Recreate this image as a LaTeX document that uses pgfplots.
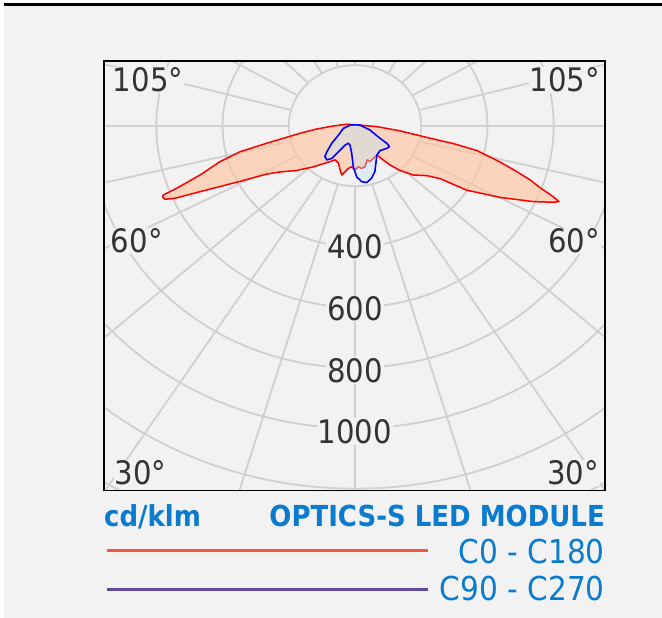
\documentclass[border=0pt]{standalone}
\usepackage{pgfplots}
\pgfplotsset{compat=1.18}
\usepackage{fontspec}
\setmainfont{DejaVu Sans Condensed}
\definecolor{bgc}{HTML}{F2F2F2}
\definecolor{gridc}{HTML}{D0D0D0}
\definecolor{labc}{HTML}{333333}
\definecolor{bluec}{HTML}{0A7BCE}
\definecolor{legred}{HTML}{F05A3F}
\definecolor{legpur}{HTML}{5E4A9C}
\definecolor{peach}{RGB}{255,196,160}
\definecolor{lblue}{RGB}{190,225,245}
\tikzset{lab/.style={font=\fontsize{32.5}{32.5}\selectfont, text=labc, fill=bgc, inner sep=1bp}}
\begin{document}
\begin{tikzpicture}[x=1bp,y=1bp]
\useasboundingbox (0,0) rectangle (662,618);
\fill[white] (0,0) rectangle (662,618);
\fill[bgc] (4,0) rectangle (662,612);
\fill[black] (4,612) rectangle (662,615);
\begin{axis}[
  at={(104bp,127.5bp)}, anchor=south west,
  width=501bp, height=429.5bp, scale only axis,
  xmin=-758, xmax=755, ymin=-1206, ymax=214,
  xtick=\empty, ytick=\empty,
  axis line style={black, line width=1.6bp},
  clip mode=global, axis on top,
]
\pgfplotsinvokeforeach{200,400,600,800,1000,1200,1400}{
  \draw[gridc, line width=1.8bp] (axis cs:0,0) ellipse [x radius=#1, y radius=#1];
}
\pgfplotsinvokeforeach{0,15,30,45,60,75,90,105,120,135,150,165,180,195,210,225,240,255,270,285,300,315,330,345}{
  \draw[gridc, line width=1.8bp] (axis cs:{200*sin(#1)},{-200*cos(#1)}) --
    (axis cs:{1700*sin(#1+2.4*sin(2*#1)*(cos(#1)>0.01))},{-1700*cos(#1+2.4*sin(2*#1)*(cos(#1)>0.01))});
}
% C0 - C180
\addplot[draw=red, line width=1.5bp, line join=round, fill=peach, fill opacity=0.65] coordinates {
(-581,-236) (-579,-229) (-539,-207) (-505,-186) (-468,-163) (-408,-119) (-347,-86) (-267,-58)
(-166,-25) (-116,-11) (-66,-1) (-25,5) (5,3) (66,-3) (136,-17) (237,-44) (297,-59)
(368,-82) (438,-120) (489,-152) (530,-180) (559,-205) (599,-235) (616,-251) (599,-253) (539,-251) (438,-237)
(337,-213) (257,-175) (217,-165) (176,-163) (136,-148) (106,-130) (85,-113) (66,-97) (45,-119)
(37,-113) (30,-136) (20,-141) (10,-136) (0,-146) (-10,-136) (-20,-141) (-30,-152) (-40,-163)
(-45,-146) (-50,-124) (-60,-113) (-76,-119) (-91,-124) (-126,-136) (-176,-148) (-227,-153)
(-267,-160) (-337,-181) (-418,-204) (-489,-224) (-544,-240) (-574,-243) (-581,-236)
};
% C90 - C270
\addplot[draw=blue, line width=1.6bp, line join=round, fill=lblue, fill opacity=0.4] coordinates {
(-15,2) (0,3) (15,2) (45,-14) (76,-42) (96,-58) (104,-69) (96,-75) (76,-82) (66,-97) (63,-124)
(60,-152) (50,-174) (35,-188) (20,-185) (5,-169) (-5,-136) (-10,-91) (-15,-64) (-20,-58) (-30,-64)
(-50,-86) (-70,-108) (-85,-113) (-91,-102) (-85,-86) (-70,-58) (-50,-31) (-35,-9) (-15,2)
};
\node[lab] at (axis cs:-625,151) {105°};
\node[lab] at (axis cs:634,151) {105°};
\node[lab] at (axis cs:-659,-381) {60°};
\node[lab] at (axis cs:662,-381) {60°};
\node[lab] at (axis cs:-647,-1148) {30°};
\node[lab] at (axis cs:659,-1148) {30°};
\node[lab] at (axis cs:0,-401) {400};
\node[lab] at (axis cs:0,-606) {600};
\node[lab] at (axis cs:0,-809) {800};
\node[lab] at (axis cs:0,-1011) {1000};
\end{axis}
\node[anchor=base west, text=bluec, font=\bfseries\fontsize{29}{29}\selectfont, inner sep=0] at (104,91.6) {cd/klm};
\node[anchor=base east, text=bluec, font=\bfseries\fontsize{29}{29}\selectfont, inner sep=0] at (605,91.6) {OPTICS-S LED MODULE};
\draw[legred, line width=3bp] (107,67.5) -- (428,67.5);
\node[anchor=base east, text=bluec, font=\fontsize{33}{33}\selectfont, inner sep=0] at (605,54) {C0 - C180};
\draw[legpur, line width=3bp] (107,28.5) -- (428,28.5);
\node[anchor=base east, text=bluec, font=\fontsize{33}{33}\selectfont, inner sep=0] at (605,17) {C90 - C270};
\end{tikzpicture}
\end{document}
